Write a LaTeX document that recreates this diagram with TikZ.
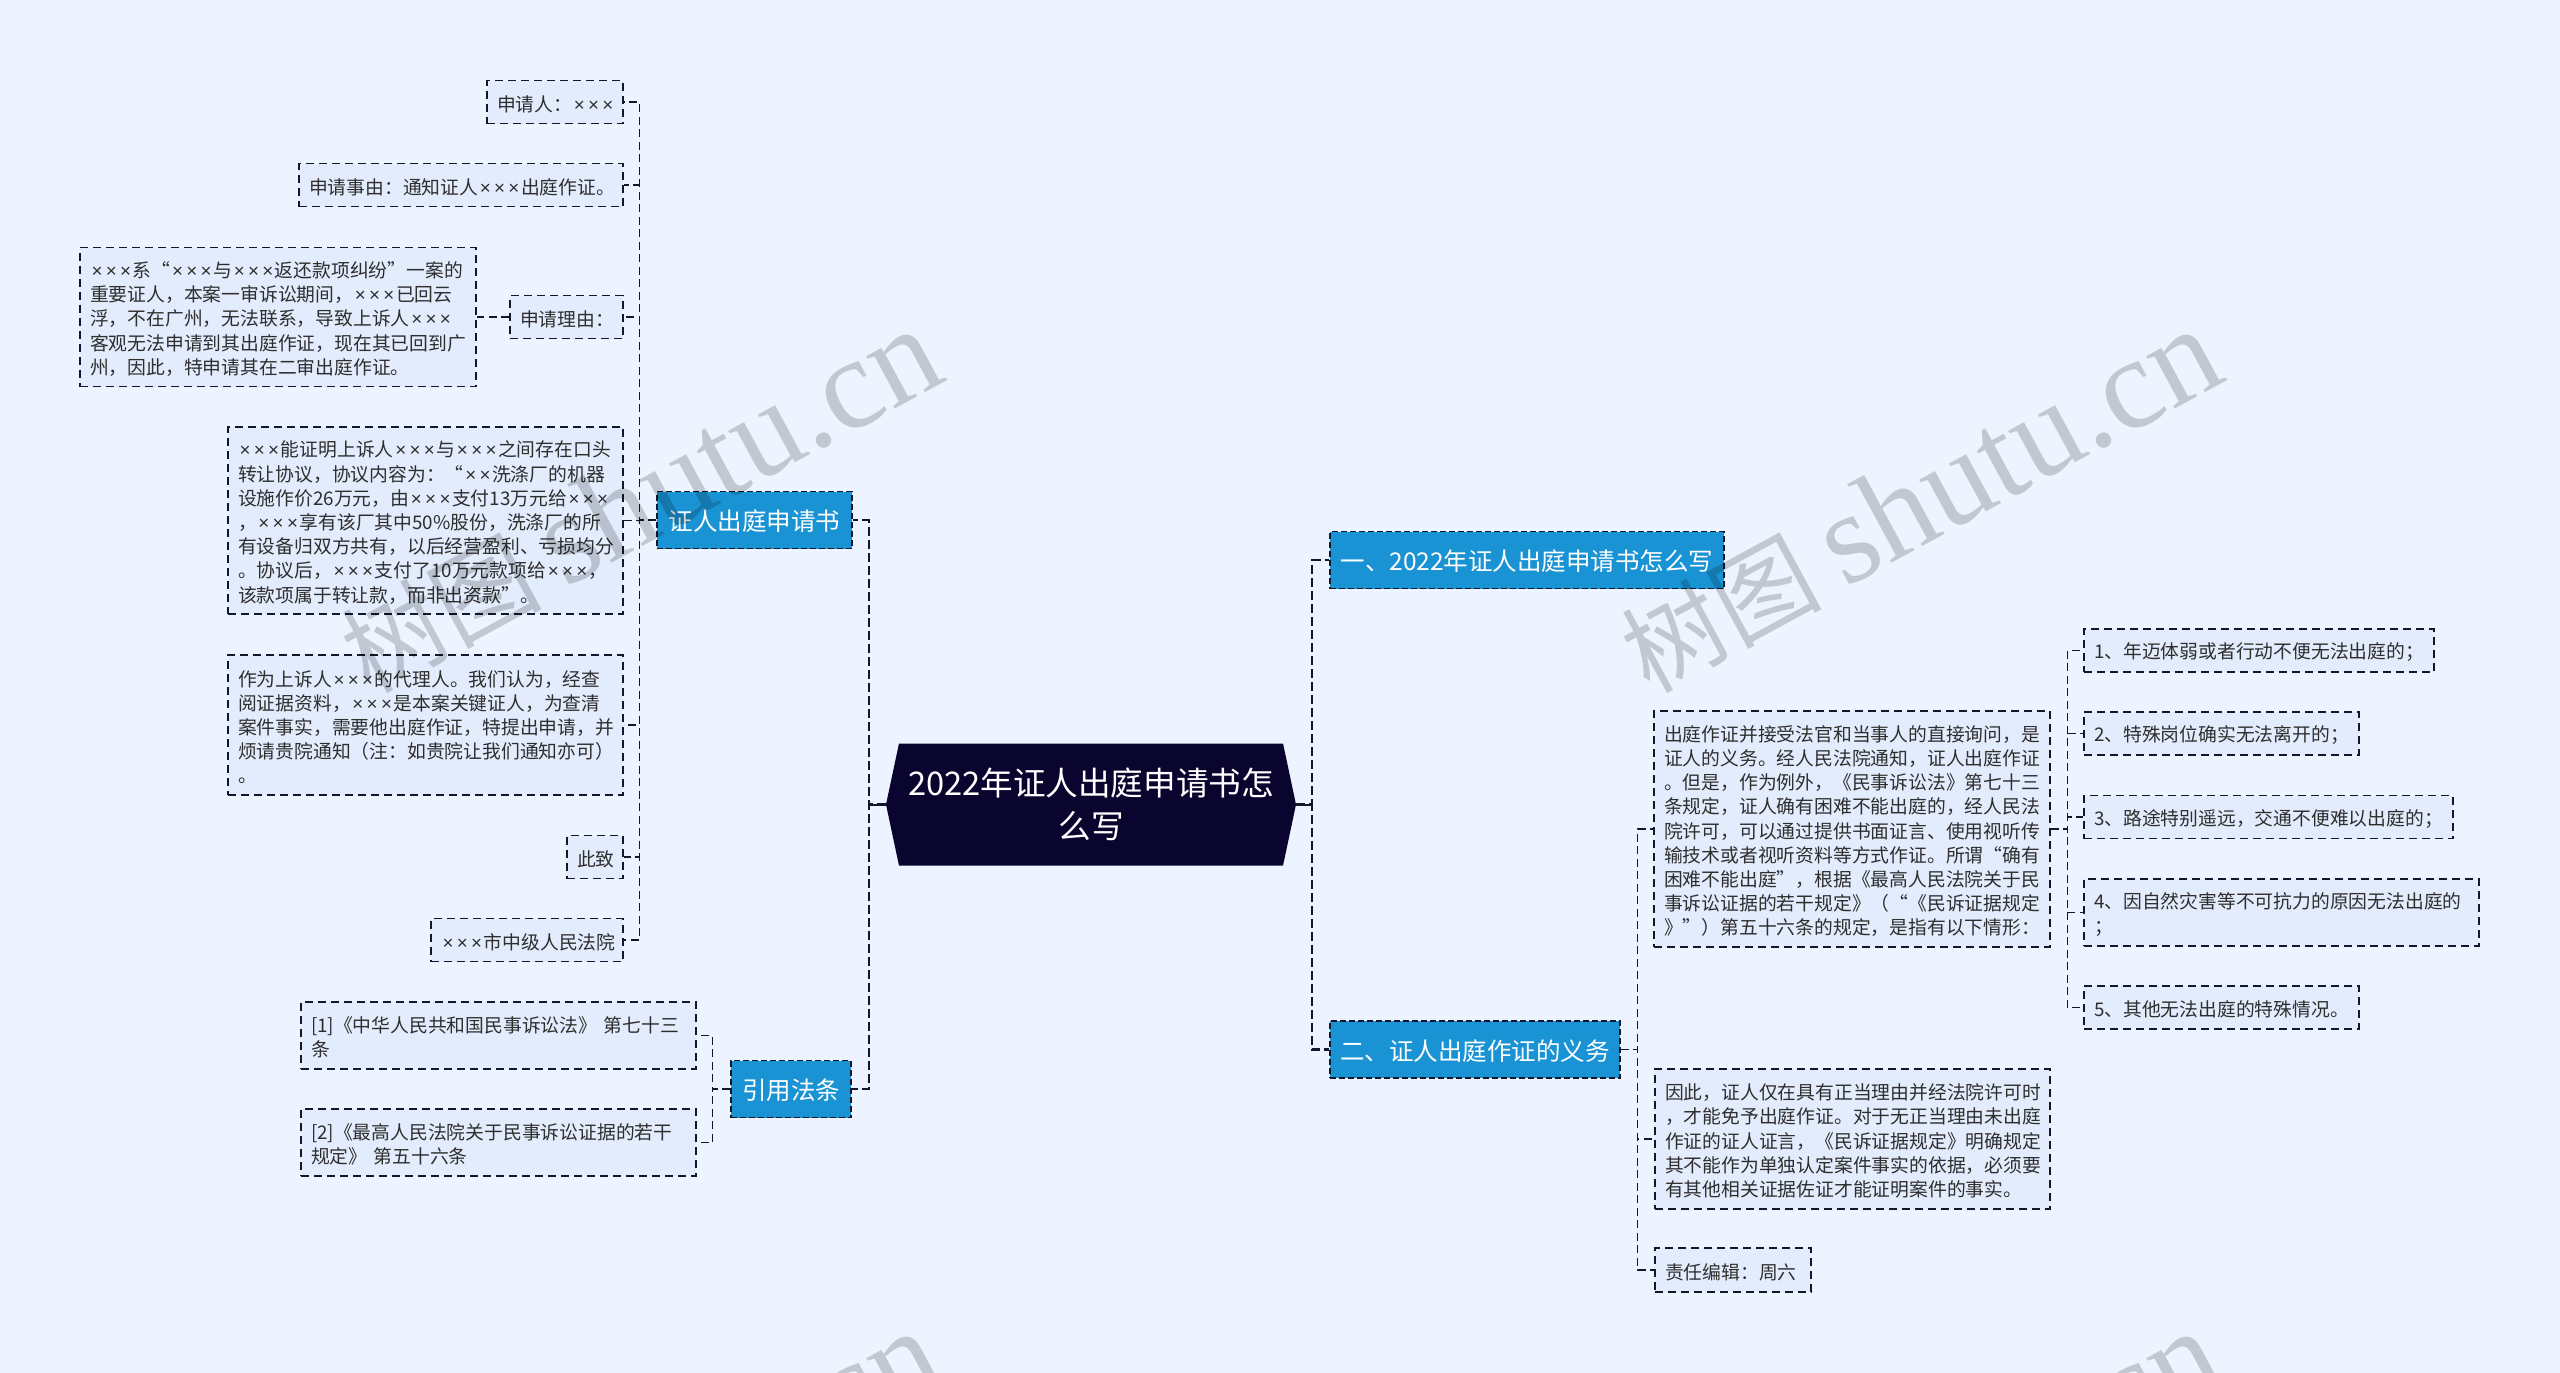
\documentclass[tikz,border=0pt]{standalone}
\usepackage{fontspec}
\usetikzlibrary{shapes.symbols}
\setmainfont{Noto Sans CJK SC}
\newfontfamily\markfont{Liberation Serif}
\newfontfamily\crossfont{Liberation Sans}
\newcommand{\xm}{\hbox to 0.76em{\hss\crossfont ×\hss}}
\newcommand{\xxx}{\xm\xm\xm}
\definecolor{pagebg}{HTML}{EEF4FF}
\definecolor{leaffill}{HTML}{E3ECFC}
\definecolor{inktext}{HTML}{2E2E2E}
\definecolor{branchfill}{HTML}{1A93D4}
\definecolor{hubfill}{HTML}{0A052E}
\definecolor{darkline}{HTML}{12182C}
\tikzset{
    leaf/.style={draw=darkline, line width=1.5pt, dash pattern=on 8pt off 5pt, fill=leaffill, text=inktext,
        font=\fontsize{18.8}{24.2}\selectfont, align=left, inner xsep=10pt, inner ysep=0pt, text width=#1,
        execute at begin node={\rule{0pt}{20pt}}},
    branch/.style={draw=darkline, line width=1.5pt, dash pattern=on 6pt off 3pt, fill=branchfill, text=white,
        font=\fontsize{24.5}{30}\selectfont, inner sep=0pt, minimum height=57pt, text height=24pt, text depth=3pt},
    subline/.style={darkline, line width=1.3pt, dash pattern=on 8pt off 4.5pt},
    mainline/.style={darkline, line width=2.5pt, dash pattern=on 9pt off 4pt},
    watermark/.style={text=black, opacity=0.18, rotate=28.5, anchor=base, font=\fontsize{100}{100}\selectfont}
}
\begin{document}
\begin{tikzpicture}[x=1pt, y=-1pt]

    \useasboundingbox (0,0) rectangle (2560,1373);
    \fill[pagebg] (0,0) rectangle (2560,1373);

    % Central topic
    \node[signal, signal to=west and east, signal pointer angle=156, fill=hubfill, text=white, inner sep=0pt,
        minimum width=410pt, minimum height=122pt, align=center,
        font=\fontsize{32.6}{43}\selectfont] (hub) at (1091,804.5) {2022年证人出庭申请书怎\\么写};

    % Left side, first branch and its leaves
    \node[branch, minimum width=195pt] (shenqing) at (754.5,520) {证人出庭申请书};
    \node[leaf=116pt, minimum height=43pt] (applicant) at (555,102) {申请人：\xxx};
    \node[leaf=304pt, minimum height=43pt] (matter) at (461,185) {申请事由：通知证人\xxx 出庭作证。};
    \node[leaf=93pt, minimum height=43pt] (reason) at (566.5,317) {申请理由：};
    \node[leaf=376pt, minimum height=139pt] (reasontext) at (278,317) {\xxx 系“\xxx 与\xxx 返还款项纠纷”一案的\\重要证人，本案一审诉讼期间，\xxx 已回云\\浮，不在广州，无法联系，导致上诉人\xxx\\客观无法申请到其出庭作证，现在其已回到广\\州，因此，特申请其在二审出庭作证。};
    \node[leaf=375pt, minimum height=187pt] (agreement) at (425.5,520.5) {\xxx 能证明上诉人\xxx 与\xxx 之间存在口头\\转让协议，协议内容为：“\xm\xm 洗涤厂的机器\\设施作价26万元，由\xxx 支付13万元给\xxx\\，\xxx 享有该厂其中50\%股份，洗涤厂的所\\有设备归双方共有，以后经营盈利、亏损均分\\。协议后，\xxx 支付了10万元款项给\xxx，\\该款项属于转让款，而非出资款”。};
    \node[leaf=375pt, minimum height=140pt] (agent) at (425.5,725) {作为上诉人\xxx 的代理人。我们认为，经查\\阅证据资料，\xxx 是本案关键证人，为查清\\案件事实，需要他出庭作证，特提出申请，并\\烦请贵院通知（注：如贵院让我们通知亦可）\\。};
    \node[leaf=36pt, minimum height=43pt] (regards) at (595,857) {此致};
    \node[leaf=172pt, minimum height=43pt] (court) at (527,940) {\xxx 市中级人民法院};

    % Left side, second branch and its leaves
    \node[branch, minimum width=120pt] (citation) at (791,1089) {引用法条};
    \node[leaf=375pt, minimum height=67pt] (lawone) at (498.5,1035.5) {[1]《中华人民共和国民事诉讼法》 第七十三\\条};
    \node[leaf=375pt, minimum height=67pt] (lawtwo) at (498.5,1142.5) {[2]《最高人民法院关于民事诉讼证据的若干\\规定》 第五十六条};

    % Right side, the two branches
    \node[branch, minimum width=394pt] (howto) at (1527,560) {一、2022年证人出庭申请书怎么写};
    \node[branch, minimum width=290pt] (duty) at (1475,1049.5) {二、证人出庭作证的义务};

    % Leaves of the duty branch
    \node[leaf=376pt, minimum height=236pt] (testify) at (1852,829) {出庭作证并接受法官和当事人的直接询问，是\\证人的义务。经人民法院通知，证人出庭作证\\。但是，作为例外，《民事诉讼法》第七十三\\条规定，证人确有困难不能出庭的，经人民法\\院许可，可以通过提供书面证言、使用视听传\\输技术或者视听资料等方式作证。所谓“确有\\困难不能出庭”，根据《最高人民法院关于民\\事诉讼证据的若干规定》（“《民诉证据规定\\》”）第五十六条的规定，是指有以下情形：};
    \node[leaf=375pt, minimum height=140pt] (exempt) at (1852.5,1139) {因此，证人仅在具有正当理由并经法院许可时\\，才能免予出庭作证。对于无正当理由未出庭\\作证的证人证言，《民诉证据规定》明确规定\\其不能作为单独认定案件事实的依据，必须要\\有其他相关证据佐证才能证明案件的事实。};
    \node[leaf=136pt, minimum height=44pt] (editor) at (1733,1270) {责任编辑：周六};

    % The five situations
    \node[leaf=330pt, minimum height=43pt] (caseone) at (2259,650.5) {1、年迈体弱或者行动不便无法出庭的；};
    \node[leaf=255pt, minimum height=43pt] (casetwo) at (2221.5,733.5) {2、特殊岗位确实无法离开的；};
    \node[leaf=349pt, minimum height=43pt] (casethree) at (2268.5,817) {3、路途特别遥远，交通不便难以出庭的；};
    \node[leaf=375pt, minimum height=67pt] (casefour) at (2281.5,912.5) {4、因自然灾害等不可抗力的原因无法出庭的\\；};
    \node[leaf=255pt, minimum height=43pt] (casefive) at (2221.5,1007.5) {5、其他无法出庭的特殊情况。};

    % Connectors of the central topic
    \draw[darkline, line width=2pt] (hub.west) -- ++(-17,0);
    \draw[darkline, line width=2pt] (hub.east) -- ++(16,0);
    \foreach \target in {shenqing,citation} {
        \draw[mainline] (hub.west) -- ++(-17,0) |- (\target.east);
    }
    \foreach \target in {howto,duty} {
        \draw[mainline] (hub.east) -- ++(16,0) |- (\target.west);
    }

    % Connectors of the branches
    \foreach \target in {applicant,matter,reason,agreement,agent,regards,court} {
        \draw[subline] (shenqing.west) -- ++(-17,0) |- (\target.east);
    }
    \draw[subline] (reason.west) -- (reasontext.east);
    \foreach \target in {lawone,lawtwo} {
        \draw[subline] (citation.west) -- ++(-18,0) |- (\target.east);
    }
    \foreach \target in {testify,exempt,editor} {
        \draw[subline] (duty.east) -- ++(17,0) |- (\target.west);
    }
    \foreach \target in {caseone,casetwo,casethree,casefour,casefive} {
        \draw[subline] (testify.east) -- ++(17,0) |- (\target.west);
    }

    % Watermark over everything
    \begin{scope}
        \clip (0,0) rectangle (2560,1373);
        \foreach \col in {0,1280} {
            \foreach \row in {0,1002} {
                \node[watermark] (mark\col\row) at (659.5+\col,537+\row) {树图 {\markfont\fontsize{130}{130}\selectfont shutu.cn}};
            }
        }
    \end{scope}

\end{tikzpicture}
\end{document}
